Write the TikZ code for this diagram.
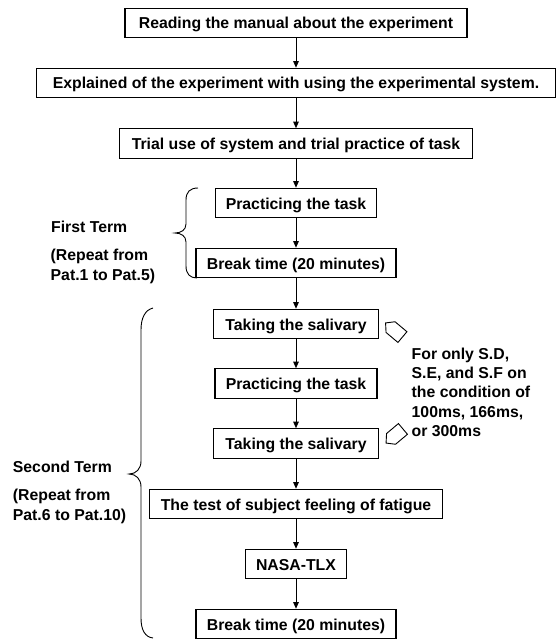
\documentclass[tikz,border=0pt]{standalone}
\usepackage{fontspec}
\setmainfont{Liberation Sans}
\usetikzlibrary{arrows.meta}
\begin{document}
\begin{tikzpicture}[x=1pt, y=-1pt,
  stepbox/.style={draw, line width=1.1pt, fill=white, minimum height=29.5pt,
    inner sep=0pt, text height=12pt, text depth=0pt,
    font=\bfseries\fontsize{15.8}{19}\selectfont},
  flow/.style={line width=0.9pt, -{Triangle[length=6.5pt, width=5.5pt]}},
  brace/.style={line width=0.9pt},
  callout/.style={line width=0.9pt, line join=miter},
  termtext/.style={anchor=west, align=left, inner sep=0pt,
    font=\bfseries\fontsize{15.8}{20}\selectfont},
  notetext/.style={anchor=west, align=left, inner sep=0pt,
    font=\bfseries\fontsize{15.8}{19.2}\selectfont}]

\useasboundingbox (0,0) rectangle (556,639);

% main sequence of steps
\node[stepbox, minimum width=342pt] (read)  at (296,23)    {Reading the manual about the experiment};
\node[stepbox, minimum width=519pt] (expl)  at (296,83)    {Explained of the experiment with using the experimental system.};
\node[stepbox, minimum width=353pt] (trial) at (296,143.5) {Trial use of system and trial practice of task};
\node[stepbox, minimum width=161pt] (prac1) at (296,203)   {Practicing the task};
\node[stepbox, minimum width=200pt] (brk1)  at (296,263)   {Break time (20 minutes)};
\node[stepbox, minimum width=165pt] (sal1)  at (296,324)   {Taking the salivary};
\node[stepbox, minimum width=162pt] (prac2) at (296,383.5) {Practicing the task};
\node[stepbox, minimum width=165pt] (sal2)  at (296,443.5) {Taking the salivary};
\node[stepbox, minimum width=293pt] (feel)  at (296,504)   {The test of subject feeling of fatigue};
\node[stepbox, minimum width=101pt] (nasa)  at (296,564)   {NASA-TLX};
\node[stepbox, minimum width=200pt] (brk2)  at (296,624)   {Break time (20 minutes)};

% connectors
\draw[flow] (read)  -- (expl);
\draw[flow] (expl)  -- (trial);
\draw[flow] (trial) -- (prac1);
\draw[flow] (prac1) -- (brk1);
\draw[flow] (brk1)  -- (sal1);
\draw[flow] (sal1)  -- (prac2);
\draw[flow] (prac2) -- (sal2);
\draw[flow] (sal2)  -- (feel);
\draw[flow] (feel)  -- (nasa);
\draw[flow] (nasa)  -- (brk2);

% first term brace and labels
\draw[brace] (198,188) .. controls (190,188) and (186,192) .. (186,200)
  -- (186,224) .. controls (186,230) and (181,233) .. (175,233)
  .. controls (181,233) and (186,236) .. (186,242)
  -- (186,266) .. controls (186,274) and (190,278) .. (197,278);
\node[termtext] (first) at (51,227) {First Term};
\node[termtext] (firstrep) at (50.5,266.5) {(Repeat from\\Pat.1 to Pat.5)};

% second term brace and labels
\draw[brace] (153,308) .. controls (145,310) and (141,318) .. (141,330)
  -- (141,461) .. controls (141,469) and (136,474) .. (129,474)
  .. controls (136,474) and (141,479) .. (141,487)
  -- (141,618) .. controls (141,630) and (145,637) .. (153,638);
\node[termtext] (second) at (12.7,467) {Second Term};
\node[termtext] (secondrep) at (12.7,506.5) {(Repeat from\\Pat.6 to Pat.10)};

% pentagon callouts pointing at the saliva steps
\draw[callout, shift={(394,330)}, rotate=-40]
  (-11,0) -- (-4.5,-7) -- (11,-7) -- (11,7) -- (-4.5,7) -- cycle;
\draw[callout, shift={(394.5,436)}, rotate=40]
  (-11,0) -- (-4.5,-7) -- (11,-7) -- (11,7) -- (-4.5,7) -- cycle;
\node[notetext] (note) at (411.5,392.3)
  {For only S.D,\\S.E, and S.F on\\the condition of\\100ms, 166ms,\\or 300ms};

\end{tikzpicture}
\end{document}
